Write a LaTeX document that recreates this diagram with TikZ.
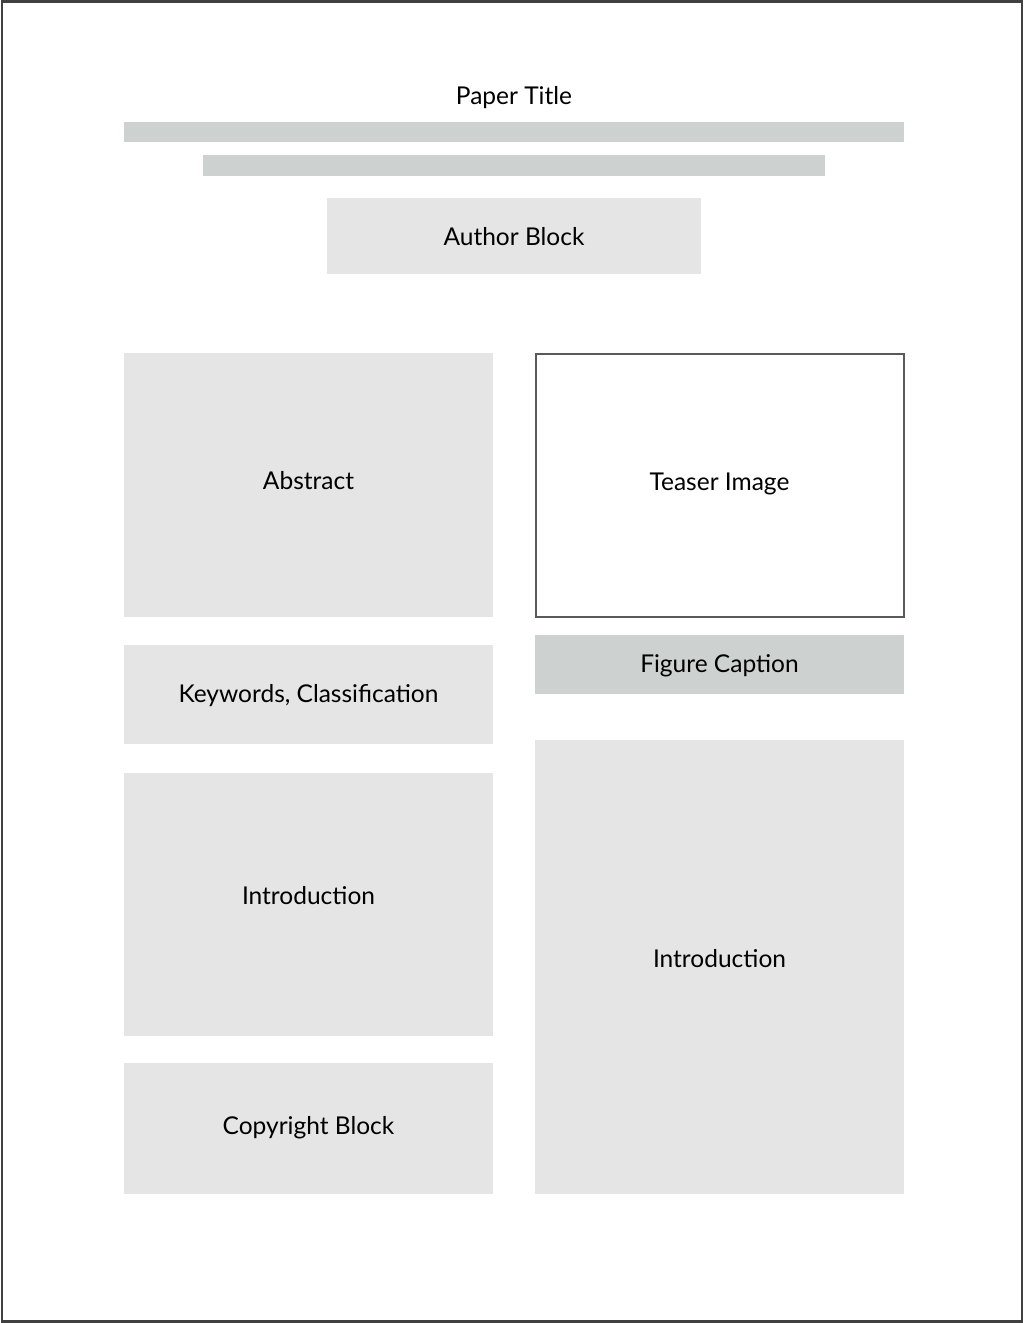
\documentclass[tikz,border=0pt]{standalone}
\usepackage{fontspec}
\setmainfont{Lato}
\definecolor{boxgray}{HTML}{E5E5E5}
\definecolor{bargray}{HTML}{CDD2D1}
\definecolor{framegray}{HTML}{404040}
\definecolor{edgegray}{HTML}{5A5A5A}
\begin{document}
\begin{tikzpicture}[x=1pt,y=-1pt,
  blk/.style={fill=boxgray,draw=none},
  bar/.style={fill=bargray,draw=none},
  lbl/.style={font=\fontsize{24.5}{28}\selectfont,text=black,inner sep=0pt,anchor=base}]
\useasboundingbox (0,0) rectangle (1024,1323);
\fill[white] (0,0) rectangle (1024,1323);
\draw[framegray,line width=2.5pt] (2,1.5) rectangle (1022,1321.5);
% title
\node[lbl] (title) at (514,104) {Paper Title};
\path[bar] (124,122) rectangle (904,142);
\path[bar] (203,155) rectangle (825,176);
% author
\path[blk] (327,198) rectangle (701,274);
\node[lbl] (author) at (514,245) {Author Block};
% left column
\path[blk] (124,353) rectangle (493,617);
\node[lbl] (abstract) at (308.5,489) {Abstract};
\path[blk] (124,645) rectangle (493,744);
\node[lbl] (keywords) at (308.5,702) {Keywords, Classification};
\path[blk] (124,773) rectangle (493,1036);
\node[lbl] (introL) at (308.5,904) {Introduction};
\path[blk] (124,1063) rectangle (493,1194);
\node[lbl] (copyright) at (308.5,1134) {Copyright Block};
% right column
\draw[edgegray,line width=2pt,fill=white] (535.5,353.5) rectangle (904,616.5);
\node[lbl] (teaser) at (719.5,490) {Teaser Image};
\path[bar] (535,635) rectangle (904,694);
\node[lbl] (caption) at (719.5,672) {Figure Caption};
\path[blk] (535,740) rectangle (904,1194);
\node[lbl] (introR) at (719.5,967) {Introduction};
\end{tikzpicture}
\end{document}
